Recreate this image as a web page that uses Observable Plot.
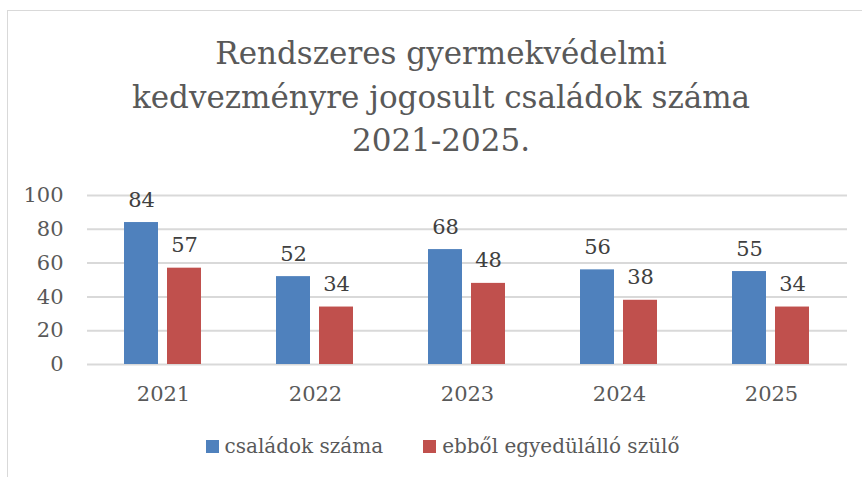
<!DOCTYPE html>
<html>
<head>
<meta charset="utf-8">
<script src="https://cdn.jsdelivr.net/npm/d3@7"></script>
<script src="https://cdn.jsdelivr.net/npm/@observablehq/plot@0.6"></script>
<style>
  html, body { margin: 0; padding: 0; background: #fff; }
  #wrap { position: relative; width: 862px; height: 477px; overflow: hidden; font-family: "DejaVu Serif", serif; color: #595959; }
  #frame { position: absolute; left: 7px; top: 10px; width: 900px; height: 500px; border-left: 1px solid #d9d9d9; border-top: 1px solid #d9d9d9; }
  #title { position: absolute; left: 0; width: 882px; top: 32px; text-align: center; font-size: 31px; line-height: 43.5px; }
  #chart { position: absolute; left: 0; top: 0; }
  #legend { position: absolute; top: 434px; left: 0; width: 885px; display: flex; justify-content: center; font-size: 20px; }
  .item { display: flex; align-items: center; margin: 0 20px; }
  .sw { width: 13px; height: 13px; margin-right: 6px; }
</style>
</head>
<body>
<div id="wrap">
  <div id="frame"></div>
  <div id="title">Rendszeres gyermekvédelmi<br>kedvezményre jogosult családok száma<br>2021-2025.</div>
  <div id="chart"></div>
  <div id="legend"></div>
</div>
<script>
const years = ["2021", "2022", "2023", "2024", "2025"];
const seriesNames = ["családok száma", "ebből egyedülálló szülő"];
const csaladok = [84, 52, 68, 56, 55];
const egyedulallo = [57, 34, 48, 38, 34];
const colors = ["#4f81bd", "#c0504d"];
const yTicks = [0, 20, 40, 60, 80, 100];

const data = [];
years.forEach((y, i) => {
  data.push({year: y, series: seriesNames[0], value: csaladok[i]});
  data.push({year: y, series: seriesNames[1], value: egyedulallo[i]});
});

const plot = Plot.plot({
  width: 862,
  height: 420,
  marginTop: 195,
  marginBottom: 56,
  marginLeft: 87,
  marginRight: 15,
  style: { fontFamily: "DejaVu Serif, serif", fontSize: "20px", color: "#595959", background: "transparent", overflow: "visible" },
  fx: { domain: years, padding: 0, label: null },
  x: { domain: seriesNames, paddingInner: 0.2093, paddingOuter: 0.872, axis: null },
  y: { domain: [0, 100], ticks: yTicks, label: null },
  color: { domain: seriesNames, range: colors },
  marks: [
    Plot.gridY(yTicks, { stroke: "#d9d9d9", strokeOpacity: 1, strokeWidth: 2 }),
    Plot.axisY({ ticks: yTicks, tickSize: 0, tickPadding: 24, label: null, fontSize: 21 }),
    Plot.axisFx({ anchor: "bottom", tickSize: 0, tickPadding: 22, label: null, fontSize: 21 }),
    Plot.barY(data, { fx: "year", x: "series", y: "value", fill: "series" }),
    Plot.text(data, { fx: "year", x: "series", y: "value", text: d => String(d.value), lineAnchor: "bottom", dy: -16, fill: "#404040", fontSize: 21 })
  ]
});
document.getElementById("chart").appendChild(plot);

const legend = document.getElementById("legend");
seriesNames.forEach((s, i) => {
  const it = document.createElement("div");
  it.className = "item";
  const sw = document.createElement("div");
  sw.className = "sw";
  sw.style.background = colors[i];
  const t = document.createElement("span");
  t.textContent = s;
  it.appendChild(sw); it.appendChild(t);
  legend.appendChild(it);
});
</script>
</body>
</html>
